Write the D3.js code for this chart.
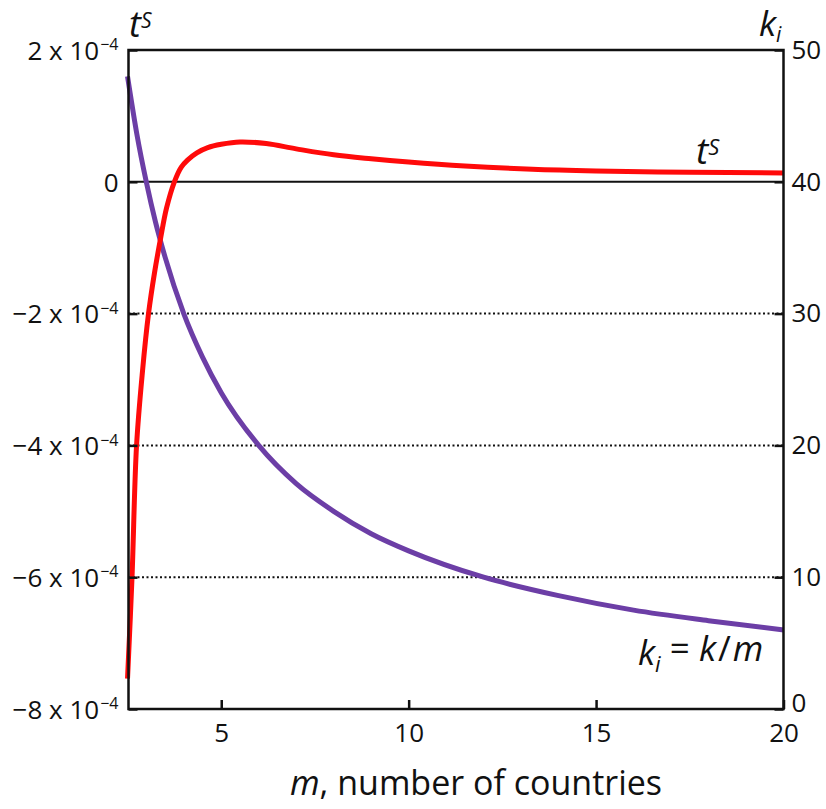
<!DOCTYPE html>
<html>
<head>
<meta charset="utf-8">
<script src="https://cdn.jsdelivr.net/npm/d3@7"></script>
<style>
  body { margin: 0; background: #fff; }
  text { font-family: "Open Sans", "Noto Sans", sans-serif; fill: #111; }
</style>
</head>
<body>
<svg id="chart" width="826" height="809"></svg>
<script>
// t^S (in units of 1e-4) against m
const tsM = [2.50, 2.62, 2.74, 2.90, 3.06, 3.22, 3.38, 3.54, 3.75, 3.93, 4.10, 4.35, 4.64, 5.0, 5.5, 6.2, 7, 8, 9, 10, 11.5, 13.3, 15, 17.5, 20];
const tsVal = [-7.54, -6.0, -4.01, -2.87, -2.0, -1.38, -0.865, -0.40, 0, 0.22, 0.33, 0.44, 0.52, 0.57, 0.605, 0.58, 0.50, 0.41, 0.35, 0.30, 0.24, 0.19, 0.165, 0.145, 0.135];

// k_i against m
const kiM = [2.5, 2.75, 3, 3.25, 3.5, 4, 4.5, 5, 6, 7, 8, 9, 10, 12, 14, 16, 18, 20];
const kiVal = [48, 43.6, 40, 36.9, 34.3, 30, 26.7, 24, 20, 17.1, 15, 13.3, 12, 10, 8.6, 7.5, 6.7, 6];

const xTicks = [5, 10, 15, 20];
const leftTicks = [2, 0, -2, -4, -6, -8];
const rightTicks = [0, 10, 20, 30, 40, 50];
const dottedAt = [-2, -4, -6];

const svg = d3.select('#chart');
const pLeft = 128.5, pRight = 783.5, pTop = 50, pBottom = 709;

const x = d3.scaleLinear().domain([2.526, 20]).range([pLeft, pRight]);
const yL = d3.scaleLinear().domain([-8, 2]).range([pBottom, pTop]);
const yR = d3.scaleLinear().domain([0, 50]).range([pBottom, pTop]);

// grid lines
svg.append('g').selectAll('line')
    .data(dottedAt)
    .enter().append('line')
    .attr('x1', pLeft).attr('x2', pRight)
    .attr('y1', d => yL(d)).attr('y2', d => yL(d))
    .style('stroke', '#111')
    .style('stroke-width', 2)
    .style('stroke-dasharray', '2,2.5');

svg.append('line')
    .attr('x1', pLeft).attr('x2', pRight)
    .attr('y1', yL(0)).attr('y2', yL(0))
    .style('stroke', '#111')
    .style('stroke-width', 2);

// curves
const tsLine = d3.line()
    .x(d => x(d[0]))
    .y(d => yL(d[1]))
    .curve(d3.curveCatmullRom.alpha(0.5));
const kiLine = d3.line()
    .x(d => x(d[0]))
    .y(d => yR(d[1]))
    .curve(d3.curveMonotoneX);

svg.append('path')
    .datum(kiM.map((m, i) => [m, kiVal[i]]))
    .attr('d', kiLine)
    .style('fill', 'none')
    .style('stroke', '#6c3ea6')
    .style('stroke-width', 5);

svg.append('path')
    .datum(tsM.map((m, i) => [m, tsVal[i]]))
    .attr('d', tsLine)
    .style('fill', 'none')
    .style('stroke', '#ff0a0a')
    .style('stroke-width', 5);

// frame
svg.append('rect')
    .attr('x', pLeft).attr('y', pTop)
    .attr('width', pRight - pLeft).attr('height', pBottom - pTop)
    .style('fill', 'none')
    .style('stroke', '#111')
    .style('stroke-width', 2.5);

// axes, ticks point inward
const xAxis = d3.axisBottom(x).tickValues(xTicks).tickSizeInner(-9).tickSizeOuter(0).tickPadding(14);
const gx = svg.append('g').attr('transform', `translate(0,${pBottom})`).call(xAxis);
gx.select('.domain').remove();
gx.selectAll('.tick line').style('stroke', '#111').style('stroke-width', 2.5);
gx.selectAll('.tick text').style('font-size', '26px').attr('font-family', null).attr('dy', '0.72em');

const yAxisR = d3.axisRight(yR).tickValues(rightTicks).tickSizeInner(-9).tickSizeOuter(0).tickPadding(8);
const gr = svg.append('g').attr('transform', `translate(${pRight},0)`).call(yAxisR);
gr.select('.domain').remove();
gr.selectAll('.tick line').style('stroke', '#111').style('stroke-width', 2.5);
gr.selectAll('.tick text').style('font-size', '26px').attr('font-family', null);
gr.selectAll('.tick').filter(d => d === 0).select('text').attr('dy', '0.1em');

const yAxisL = d3.axisLeft(yL).tickValues(leftTicks).tickSizeInner(-9).tickSizeOuter(0).tickFormat('');
const gl = svg.append('g').attr('transform', `translate(${pLeft},0)`).call(yAxisL);
gl.select('.domain').remove();
gl.selectAll('.tick line').style('stroke', '#111').style('stroke-width', 2.5);

const lt = gl.selectAll('.tick').append('text')
    .attr('x', -10)
    .attr('dy', '0.36em')
    .attr('text-anchor', 'end')
    .style('font-size', '26px');
lt.each(function(d) {
    const t = d3.select(this);
    if (d === 0) { t.text('0'); return; }
    t.append('tspan').text((d < 0 ? '\u2212' : '') + Math.abs(d) + ' x 10');
    t.append('tspan').attr('dx', '1').attr('dy', '-0.6em').style('font-size', '16px').text('\u22124');
});

// axis titles and curve labels
const tS = svg.append('text').attr('x', 129).attr('y', 37).style('font-size', '36px');
tS.append('tspan').style('font-style', 'italic').text('t');
tS.append('tspan').attr('dy', '-0.42em').style('font-size', '21px').style('font-style', 'italic').text('S');

const kI = svg.append('text').attr('x', 759).attr('y', 36).style('font-size', '35px');
kI.append('tspan').style('font-style', 'italic').text('k');
kI.append('tspan').attr('dy', '0.3em').style('font-size', '21px').style('font-style', 'italic').text('i');

const tS2 = svg.append('text').attr('x', 696).attr('y', 164).style('font-size', '37px');
tS2.append('tspan').style('font-style', 'italic').text('t');
tS2.append('tspan').attr('dy', '-0.42em').style('font-size', '22px').style('font-style', 'italic').text('S');

const kEq = svg.append('text').attr('x', 638).attr('y', 665).style('font-size', '35px');
kEq.append('tspan').style('font-style', 'italic').text('k');
kEq.append('tspan').attr('dy', '0.3em').style('font-size', '22px').style('font-style', 'italic').text('i');
kEq.append('tspan').attr('dy', '-0.3em').text(' = ');
kEq.append('tspan').style('font-style', 'italic').text('k');
kEq.append('tspan').attr('dx', '2').text('/');
kEq.append('tspan').attr('dx', '2').style('font-style', 'italic').text('m');

const xl = svg.append('text').attr('x', 476).attr('y', 795).attr('text-anchor', 'middle').style('font-size', '34px');
xl.append('tspan').style('font-style', 'italic').text('m');
xl.append('tspan').text(', number of countries');
</script>
</body>
</html>
